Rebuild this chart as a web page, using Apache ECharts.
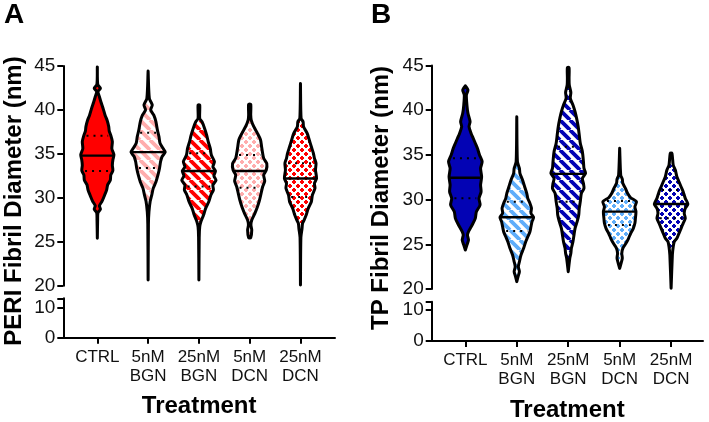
<!DOCTYPE html>
<html>
<head>
<meta charset="utf-8">
<script src="https://cdn.jsdelivr.net/npm/echarts@6/dist/echarts.min.js"></script>
<style>
html, body { margin: 0; padding: 0; background: #fff; }
#main { width: 709px; height: 422px; }
</style>
</head>
<body>
<div id="main"></div>
<script>
// treatments on the x axis
var categories = ['CTRL', '5nM\nBGN', '25nM\nBGN', '5nM\nDCN', '25nM\nDCN'];

// violin outlines: [diameter (nm), density (arb. units)], top to bottom
var periCtrl = [[44.9,0],[42.9,0.4],[42.46,3],[42.1,0.6],[41.5,2],[40.9,3.5],[40.2,5.5],[39.4,7.5],[38.8,9.5],[38.1,11],[37.6,11.5],[37.1,13],[36.4,14.5],[35.6,14],[34.9,16],[34.3,15],[33.7,14.5],[33.1,15],[32.6,13],[32.0,12.5],[31.5,10],[30.9,9],[30.3,7],[29.6,4.5],[29.1,2],[28.7,3],[28.3,0.6],[27.5,0.3],[25.4,0]];
var periBgn5 = [[44.43,0],[41.3,1.2],[40.56,4],[40.0,2.5],[39.4,5.5],[38.66,7.5],[37.7,9],[36.95,10.5],[36.2,11.5],[35.6,14.5],[35.2,16.5],[34.7,13.5],[34.1,12],[33.36,11],[32.6,9.5],[31.8,7.5],[31.1,5],[30.3,3.5],[29.6,2],[28.4,0.8],[27.0,0.3],[20.65,0]];
var periBgn25 = [[40.56,0.8],[39.04,0.8],[38.66,3],[37.9,5.5],[37.14,7.5],[36.4,9],[35.6,11],[34.87,12],[34.1,15],[33.54,13.5],[33.05,16],[32.5,14.5],[32.0,16.5],[31.46,13.5],[30.9,14],[30.3,11.5],[29.56,9.5],[28.8,6.5],[28.04,4.5],[27.3,2],[26.7,0.8],[25.5,0.3],[20.65,0]];
var periDcn5 = [[40.63,1],[39.42,1],[38.85,1.5],[38.09,4],[37.34,7.5],[36.58,10.5],[35.81,11.5],[35.06,12.5],[34.5,13.5],[33.9,16.5],[33.16,16],[32.6,13.5],[31.9,14.5],[31.26,12.5],[30.5,11],[29.75,9.5],[28.99,7.5],[28.24,5],[27.47,2],[26.9,1.2],[26.34,2],[25.46,1]];
var periDcn25 = [[43.0,0],[39.04,0.6],[38.66,2.5],[38.09,3],[37.34,6.5],[36.58,8.5],[35.81,10.5],[35.06,12.5],[34.5,13.5],[33.92,15],[33.16,14.5],[32.2,15.5],[31.65,13.5],[31.08,14],[30.32,11.5],[29.56,10.5],[28.8,7.5],[28.04,5.5],[27.47,3.5],[27.1,2],[26.5,1.5],[25.5,0.4],[20.08,0]];
var periMedian = [34.8, 35.2, 33.05, 33.05, 32.2];
var periQ3 = [37.07, 37.4, 35.06, 34.87, 33.92];
var periQ1 = [33.05, 33.4, 31.3, 31.15, 30.1];

var tpCtrl = [[42.74,0],[42.26,2.5],[41.7,1],[40.58,1.5],[39.65,2.5],[38.72,4.5],[38.15,3.5],[37.4,5.5],[36.86,7.5],[36.3,9.5],[35.74,11.5],[34.99,13.5],[34.24,16],[33.5,14.5],[32.56,15.5],[31.63,14.5],[30.88,15],[30.14,13],[29.4,14],[28.65,10.5],[27.9,9.5],[27.16,6.5],[26.41,3],[26.04,2],[25.48,3],[24.92,1.5],[24.36,0]];
var tpBgn5 = [[39.27,0],[34.24,0.6],[33.5,2.5],[32.94,3],[32.19,5.5],[31.44,7.5],[30.7,9.5],[30.14,10.5],[29.59,12.5],[29.03,14],[28.47,13.5],[28.02,16],[27.53,14.5],[26.97,13.5],[26.41,12.5],[25.85,10.5],[25.29,8.5],[24.55,6.5],[23.8,4],[23.05,2.5],[22.5,1.5],[21.94,2.5],[21.38,1.2],[20.82,0]];
var tpBgn25 = [[44.76,0.8],[43.57,0.8],[42.82,1],[42.0,2.5],[41.33,2],[40.58,4.5],[39.83,6.5],[39.09,8],[38.15,9.5],[37.23,10.5],[36.3,11.5],[35.36,13.5],[34.24,14.5],[33.5,15],[32.94,16.5],[32.38,13.5],[31.82,14.5],[31.26,15],[30.7,12.5],[29.77,11.5],[29.03,10.5],[28.28,10],[27.53,8.5],[26.79,6.5],[26.04,5.5],[25.29,4.5],[24.55,3],[23.99,2.5],[23.43,1.5],[21.94,0]];
var tpDcn5 = [[35.74,0],[32.75,1],[32.3,2.5],[31.82,3],[31.26,5.5],[30.7,7.5],[30.21,10.5],[29.77,16],[29.2,14.5],[28.65,15.5],[27.9,15],[27.35,14.5],[26.79,13],[26.23,10.5],[25.67,8.5],[25.11,6],[24.55,3],[23.99,2],[23.43,2.5],[22.31,0]];
var tpDcn25 = [[35.18,0.8],[33.87,2],[33.31,4],[32.56,5.5],[32.0,7.5],[31.44,9.5],[30.88,11.5],[30.14,13.5],[29.5,16],[29.03,13.5],[28.47,12.5],[27.9,13.5],[27.35,11.5],[26.79,9.5],[26.23,7.5],[25.67,5.5],[25.29,3],[24.73,2],[23.8,1.2],[20.08,0]];
var tpMedian = [32.45, 28.02, 32.88, 28.65, 29.5];
var tpQ3 = [34.62, 29.77, 35.92, 29.84, 31.07];
var tpQ1 = [30.14, 26.49, 29.77, 27.16, 27.9];

var upperTicks = [20, 25, 30, 35, 40, 45];
var lowerTicks = [0, 10];

var WIDTH_SCALE = 1 / 49;
var FONT = '"Liberation Sans", Arial, sans-serif';

var RED = '#ff0000', PINK = '#ffadad', NAVY = '#0303b4', SKY = '#5fadfa';

function solidFill(color) { return color; }
function stripeFill(color) {
    var s = 10;
    var c = document.createElement('canvas');
    c.width = s; c.height = s;
    var ctx = c.getContext('2d');
    ctx.fillStyle = '#fff';
    ctx.fillRect(0, 0, s, s);
    ctx.strokeStyle = color;
    ctx.lineWidth = 3.8;
    ctx.beginPath();
    for (var k = -s; k <= s; k += s) {
        ctx.moveTo(k, 0);
        ctx.lineTo(k + s, s);
    }
    ctx.stroke();
    return { image: c, repeat: 'repeat' };
}
function crossFill(color) {
    var s = 8;
    var c = document.createElement('canvas');
    c.width = s; c.height = s;
    var ctx = c.getContext('2d');
    ctx.fillStyle = '#fff';
    ctx.fillRect(0, 0, s, s);
    ctx.fillStyle = color;
    [[2, 2], [6, 6]].forEach(function (p) {
        ctx.fillRect(p[0] - 2, p[1] - 1, 4, 2);
        ctx.fillRect(p[0] - 1, p[1] - 2, 2, 4);
    });
    return { image: c, repeat: 'repeat' };
}

var periFills = [solidFill(RED), stripeFill(PINK), stripeFill(RED), crossFill(PINK), crossFill(RED)];
var tpFills = [solidFill(NAVY), stripeFill(SKY), stripeFill(NAVY), crossFill(SKY), crossFill(NAVY)];

function widthAt(prof, y) {
    for (var k = 0; k < prof.length - 1; k++) {
        var a = prof[k], b = prof[k + 1];
        if (y <= a[0] && y >= b[0]) {
            var t = (a[0] - y) / (a[0] - b[0]);
            return a[1] + (b[1] - a[1]) * t;
        }
    }
    return 0;
}

function violinRenderer(profiles, medians, q1, q3, fills) {
    return function (params, api) {
        var i = params.dataIndex;
        var prof = profiles[i];
        var right = [], left = [];
        prof.forEach(function (p) {
            right.push(api.coord([i + p[1] * WIDTH_SCALE, p[0]]));
            left.unshift(api.coord([i - p[1] * WIDTH_SCALE, p[0]]));
        });
        var children = [{
            type: 'polygon',
            shape: { points: right.concat(left), smooth: 0.25 },
            style: { fill: fills[i], stroke: '#000', lineWidth: 3, lineJoin: 'round' }
        }];
        var wm = widthAt(prof, medians[i]) * WIDTH_SCALE;
        var m0 = api.coord([i - wm, medians[i]]), m1 = api.coord([i + wm, medians[i]]);
        children.push({
            type: 'line',
            shape: { x1: m0[0], y1: m0[1], x2: m1[0], y2: m1[1] },
            style: { stroke: '#000', lineWidth: 2.4 }
        });
        [q1[i], q3[i]].forEach(function (q) {
            var wq = widthAt(prof, q) * WIDTH_SCALE * 0.8;
            var p0 = api.coord([i - wq, q]), p1 = api.coord([i + wq, q]);
            children.push({
                type: 'line',
                shape: { x1: p0[0], y1: p0[1], x2: p1[0], y2: p1[1] },
                style: { stroke: '#000', lineWidth: 2, lineDash: [2, 5] }
            });
        });
        return { type: 'group', children: children };
    };
}

var axisLineStyle = { color: '#000', width: 2 };
var tickLabel = { color: '#111', fontSize: 19, fontFamily: FONT };

function yAxisCfg(grid, min, max, ticks, labels) {
    return {
        type: 'value', gridIndex: grid, min: min, max: max,
        axisLine: { show: true, onZero: false, lineStyle: axisLineStyle },
        axisTick: { show: true, length: 6, lineStyle: axisLineStyle, customValues: ticks },
        axisLabel: Object.assign({ margin: 8, customValues: labels }, tickLabel),
        splitLine: { show: false }
    };
}
function xAxisCfg(grid, min, max, visible) {
    return {
        type: 'value', gridIndex: grid, min: min, max: max, show: visible,
        axisLine: { show: true, onZero: false, lineStyle: axisLineStyle },
        axisTick: { show: true, length: 6, lineStyle: axisLineStyle, customValues: [0, 1, 2, 3, 4] },
        axisLabel: {
            margin: 10, customValues: [0, 1, 2, 3, 4], color: '#111', fontSize: 17, lineHeight: 19,
            fontFamily: FONT, align: 'center',
            formatter: function (v) { return categories[Math.round(v)]; }
        },
        splitLine: { show: false },
        name: visible ? 'Treatment' : '', nameLocation: 'middle', nameGap: 57,
        nameTextStyle: { color: '#000', fontSize: 24, fontWeight: 'bold', fontFamily: FONT }
    };
}

var dom = document.getElementById('main');
var myChart = echarts.init(dom, null, { renderer: 'canvas' });

var option = {
    animation: false,
    backgroundColor: '#fff',
    textStyle: { fontFamily: FONT },
    grid: [
        { left: 63.3, top: 66, width: 271.7, height: 219.7, outerBoundsMode: 'none' },
        { left: 63.3, top: 298.3, width: 271.7, height: 39.4, outerBoundsMode: 'none' },
        { left: 431.7, top: 65.5, width: 271.3, height: 223.5, outerBoundsMode: 'none' },
        { left: 431.7, top: 301.7, width: 271.3, height: 39.3, outerBoundsMode: 'none' }
    ],
    xAxis: [
        xAxisCfg(0, -0.67, 4.68, false),
        xAxisCfg(1, -0.67, 4.68, true),
        xAxisCfg(2, -0.654, 4.62, false),
        xAxisCfg(3, -0.654, 4.62, true)
    ],
    yAxis: [
        yAxisCfg(0, 20, 45, upperTicks, upperTicks),
        yAxisCfg(1, 0, 13, [0, 10, 13], lowerTicks),
        yAxisCfg(2, 20, 45, upperTicks, upperTicks),
        yAxisCfg(3, 0, 12.7, [0, 10, 12.7], lowerTicks)
    ],
    graphic: [
        { type: 'text', x: 4, y: 15, style: { text: 'A', font: 'bold 28px ' + FONT, fill: '#000', textAlign: 'left', textVerticalAlign: 'middle' } },
        { type: 'text', x: 371, y: 15, style: { text: 'B', font: 'bold 28px ' + FONT, fill: '#000', textAlign: 'left', textVerticalAlign: 'middle' } },
        { type: 'text', x: 14, y: 201, rotation: Math.PI / 2, style: { text: 'PERI Fibril Diameter (nm)', font: 'bold 24px ' + FONT, fill: '#000', textAlign: 'center', textVerticalAlign: 'middle' } },
        { type: 'text', x: 381, y: 198, rotation: Math.PI / 2, style: { text: 'TP Fibril Diameter (nm)', font: 'bold 24px ' + FONT, fill: '#000', textAlign: 'center', textVerticalAlign: 'middle' } }
    ],
    series: [
        {
            name: 'PERI', type: 'custom', xAxisIndex: 0, yAxisIndex: 0, clip: false,
            renderItem: violinRenderer([periCtrl, periBgn5, periBgn25, periDcn5, periDcn25], periMedian, periQ1, periQ3, periFills),
            data: periMedian.map(function (m, i) { return [i, m]; })
        },
        {
            name: 'TP', type: 'custom', xAxisIndex: 2, yAxisIndex: 2, clip: false,
            renderItem: violinRenderer([tpCtrl, tpBgn5, tpBgn25, tpDcn5, tpDcn25], tpMedian, tpQ1, tpQ3, tpFills),
            data: tpMedian.map(function (m, i) { return [i, m]; })
        }
    ]
};

if (option && typeof option === 'object') {
    myChart.setOption(option, true);
}
</script>
</body>
</html>
